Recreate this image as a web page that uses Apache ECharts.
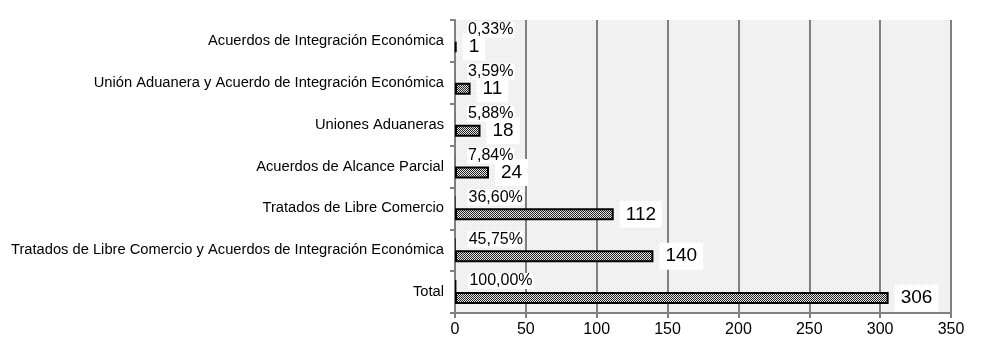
<!DOCTYPE html>
<html><head><meta charset="utf-8">
<script src="https://cdn.jsdelivr.net/npm/echarts@6/dist/echarts.min.js"></script>
<style>html,body{margin:0;padding:0;background:#fff}#c{width:981px;height:350px}</style>
</head><body><div id="c"></div>
<script>
const categories = [
  "Acuerdos de Integración Económica",
  "Unión Aduanera y Acuerdo de Integración Económica",
  "Uniones Aduaneras",
  "Acuerdos de Alcance Parcial",
  "Tratados de Libre Comercio",
  "Tratados de Libre Comercio y Acuerdos de Integración Económica",
  "Total"
];
const counts = [1, 11, 18, 24, 112, 140, 306];
const shares = [0.0033, 0.0359, 0.0588, 0.0784, 0.3660, 0.4575, 1.0000];
const shareLabels = ["0,33%", "3,59%", "5,88%", "7,84%", "36,60%", "45,75%", "100,00%"];
const xTicks = [0, 50, 100, 150, 200, 250, 300, 350];

function makePattern(fn, w, h) {
  const c = document.createElement('canvas');
  c.width = w; c.height = h;
  fn(c.getContext('2d'));
  return c;
}
const hatch = makePattern(ctx => {
  ctx.fillStyle = '#e6e6e6'; ctx.fillRect(0, 0, 2, 2);
  ctx.fillStyle = '#222'; ctx.fillRect(0, 0, 1, 1); ctx.fillRect(1, 1, 1, 1);
}, 2, 2);
const bg = makePattern(ctx => {
  ctx.fillStyle = '#f3f3f3'; ctx.fillRect(0, 0, 4, 4);
  ctx.fillStyle = '#e4e4e4'; ctx.fillRect(0, 0, 1, 1); ctx.fillRect(2, 2, 1, 1);
}, 4, 4);

const chart = echarts.init(document.getElementById('c'), null, {renderer: 'canvas'});
const font = '"Liberation Sans", Arial, sans-serif';
chart.setOption({
  animation: false,
  textStyle: {fontFamily: font},
  grid: {left: 455, right: 30, top: 20, bottom: 37, show: true,
         backgroundColor: {image: bg, repeat: 'repeat'}, borderWidth: 0},
  xAxis: {
    type: 'value', min: xTicks[0], max: xTicks[xTicks.length - 1], interval: 50,
    axisLine: {show: true, lineStyle: {color: '#808080', width: 2}},
    axisTick: {show: true, length: 5, lineStyle: {color: '#808080', width: 2}},
    axisLabel: {color: '#000', fontSize: 16, margin: 9, fontFamily: font},
    splitLine: {show: true, lineStyle: {color: '#808080', width: 2}}
  },
  yAxis: {
    type: 'category', data: categories, inverse: true,
    axisLine: {show: true, lineStyle: {color: '#808080', width: 2}},
    axisTick: {show: true, length: 5, lineStyle: {color: '#808080', width: 2}},
    axisLabel: {color: '#000', fontSize: 14.7, margin: 11, fontFamily: font}
  },
  series: [
    {
      type: 'bar', data: shares.map(v => v), barWidth: 12, barGap: '0%', z: 5,
      itemStyle: {color: '#000'},
      label: {show: true, position: 'right', distance: 12, offset: [0, -5],
              formatter: p => shareLabels[p.dataIndex],
              color: '#000', fontSize: 16, fontFamily: font,
              backgroundColor: '#fff', padding: [0, 1]}
    },
    {
      type: 'bar', data: counts, barWidth: 12, barGap: '0%', z: 2,
      itemStyle: {color: {image: hatch, repeat: 'repeat'}, borderColor: '#000', borderWidth: 2},
      label: {show: true, position: 'right', distance: 6,
              color: '#000', fontSize: 19, fontFamily: font,
              backgroundColor: '#fff', padding: [4, 6, 3, 6], lineHeight: 20}
    }
  ]
});
</script></body></html>
